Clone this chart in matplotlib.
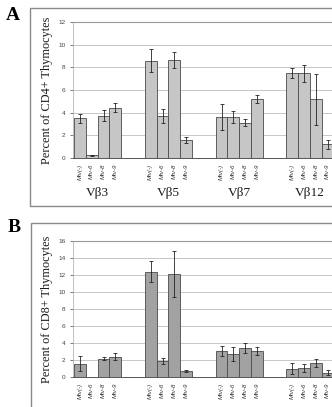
import matplotlib
matplotlib.use("Agg")
import matplotlib.pyplot as plt
from matplotlib.patches import Rectangle

groups = ["Vβ3", "Vβ5", "Vβ7", "Vβ12"]
strains = ["Mtv(-)", "Mtv-6", "Mtv-8", "Mtv-9"]

cd4_vals = [[3.5, 0.25, 3.75, 4.45],
            [8.6, 3.7, 8.65, 1.6],
            [3.6, 3.6, 3.1, 5.2],
            [7.5, 7.5, 5.2, 1.2]]
cd4_err = [[0.4, 0.05, 0.5, 0.4],
           [1.0, 0.65, 0.7, 0.25],
           [1.15, 0.55, 0.3, 0.35],
           [0.45, 0.75, 2.25, 0.4]]

cd8_vals = [[1.55, 0.0, 2.15, 2.4],
            [12.4, 1.9, 12.1, 0.7],
            [3.05, 2.7, 3.4, 3.05],
            [1.0, 1.05, 1.65, 0.5]]
cd8_err = [[0.9, 0.0, 0.2, 0.45],
           [1.25, 0.35, 2.7, 0.15],
           [0.6, 0.85, 0.6, 0.45],
           [0.7, 0.5, 0.45, 0.3]]

W, H = 332, 407
fig = plt.figure(figsize=(W / 100, H / 100), dpi=100)
fig.patch.set_facecolor("white")

serif = ["Liberation Serif", "DejaVu Serif"]
sans = ["Liberation Sans", "DejaVu Sans"]

def px_axes(x0, y0, x1, y1):
    return fig.add_axes([x0 / W, 1 - y1 / H, (x1 - x0) / W, (y1 - y0) / H])

unit = 11.8  # px per bar width
bar_left0 = 74
ax_left = 73

def draw_panel(y_top, y_bot, vals, errs, ymax, ystep, ylabel, color, show_groups):
    ax = px_axes(ax_left, y_top, W, y_bot)
    xs, hs, es, labs = [], [], [], []
    for g, (gv, ge) in enumerate(zip(vals, errs)):
        for i, (v, e) in enumerate(zip(gv, ge)):
            xs.append(g * 6 + i + 0.5)
            hs.append(v)
            es.append(e)
            labs.append(strains[i])
    ax.bar(xs, hs, width=1.0, color=color, edgecolor="#4a4a4a",
           linewidth=0.6, zorder=2)
    for x, h, e in zip(xs, hs, es):
        if h > 0:
            ax.errorbar(x, h, yerr=e, fmt="none", ecolor="#222222",
                        elinewidth=0.6, capsize=1.3, capthick=0.6, zorder=3)
    xl0 = -(bar_left0 - ax_left) / unit
    xl1 = (W - bar_left0) / unit
    ax.set_xlim(xl0, xl1)
    ax.set_ylim(0, ymax)
    ax.set_yticks(range(0, ymax + 1, ystep))
    ax.tick_params(axis="y", labelsize=4.6, length=2.5, width=0.5,
                   colors="#444444", pad=3)
    for t in ax.get_yticklabels():
        t.set_fontfamily(sans)
    ax.set_xticks(xs)
    ax.set_xticklabels(labs, rotation=90, fontsize=4.4, style="italic",
                       family=sans, color="#333333")
    ax.tick_params(axis="x", length=0, pad=4)
    ax.grid(axis="y", color="#bdbdbd", linewidth=0.6, zorder=0)
    ax.set_axisbelow(True)
    ax.spines["right"].set_visible(False)
    ax.spines["top"].set_color("#999999")
    ax.spines["top"].set_linewidth(0.8)
    ax.spines["left"].set_color("#aaaaaa")
    ax.spines["left"].set_linewidth(0.5)
    ax.spines["bottom"].set_color("#555555")
    ax.spines["bottom"].set_linewidth(0.7)
    ax.set_facecolor("none")
    yc = 1 - (y_top + y_bot) / 2 / H
    fig.text(47 / W, yc, ylabel, rotation=90, ha="center", va="center",
             fontsize=8.8, family=serif, color="#1a1a1a")
    if show_groups:
        for g, name in enumerate(groups):
            ax.text(g * 6 + 2, -35 / (y_bot - y_top) * ymax, name,
                    ha="center", va="center", fontsize=9.5, family=serif,
                    color="#1a1a1a")
    return ax

draw_panel(22, 158, cd4_vals, cd4_err, 12, 2,
           "Percent of CD4+ Thymocytes", "#c6c6c6", True)
draw_panel(241, 377, cd8_vals, cd8_err, 16, 2,
           "Percent of CD8+ Thymocytes", "#a2a2a2", False)

# panel frames
fig.patches.append(Rectangle((30 / W, 1 - 206 / H), (W + 10 - 30) / W, (206 - 8) / H,
                             transform=fig.transFigure, fill=False,
                             edgecolor="#8a8a8a", linewidth=1.0))
fig.patches.append(Rectangle((31 / W, 1 - (H + 10) / H), (W + 10 - 31) / W, (H + 10 - 223) / H,
                             transform=fig.transFigure, fill=False,
                             edgecolor="#8a8a8a", linewidth=1.0))

fig.text(13 / W, 1 - 16 / H, "A", ha="center", va="center", fontsize=14,
         fontweight="bold", family=serif)
fig.text(14 / W, 1 - 228 / H, "B", ha="center", va="center", fontsize=14,
         fontweight="bold", family=serif)

fig.savefig("out.png", dpi=100, facecolor="white")
